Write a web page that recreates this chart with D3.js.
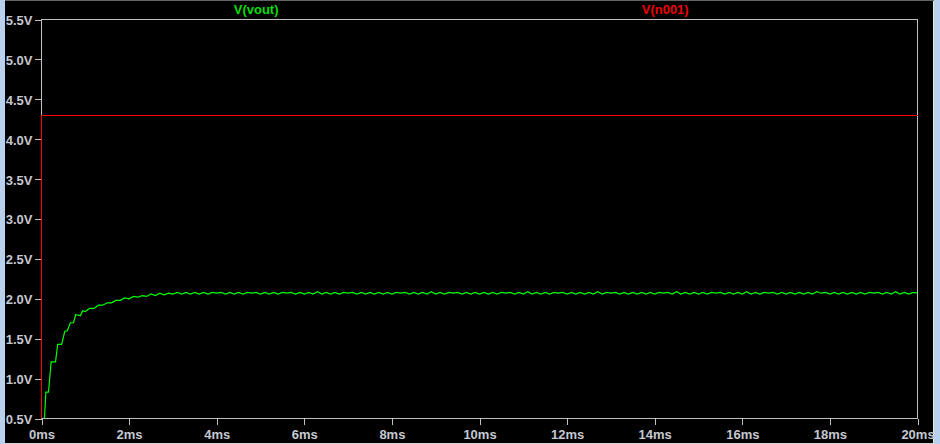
<!DOCTYPE html>
<html>
<head>
<meta charset="utf-8">
<script src="https://cdn.jsdelivr.net/npm/d3@7"></script>
<style>
  body { margin: 0; background: #000; }
  svg { display: block; }
  .tick-label { font-family: "Liberation Sans", Arial, sans-serif; font-weight: bold; font-size: 13px; fill: #c4c8d0; }
  .trace-label { font-family: "Liberation Sans", Arial, sans-serif; font-weight: bold; font-size: 13px; }
</style>
</head>
<body>
<svg id="chart" width="940" height="444"></svg>
<script>
// axis ticks
const xTicks = [0, 2, 4, 6, 8, 10, 12, 14, 16, 18, 20];          // ms
const yTicks = [0.5, 1.0, 1.5, 2.0, 2.5, 3.0, 3.5, 4.0, 4.5, 5.0, 5.5]; // V

// trace names / colours
const traceNames = ["V(vout)", "V(n001)"];
const traceColors = ["#00ff00", "#ff0000"];
const labelColors = ["#00dd00", "#ee0000"];

// V(n001): steps to 4.3V at t=0
const n001Times = [0, 0, 20];
const n001Values = [0.0, 4.3, 4.3];

// V(vout): start of the rise (ms, V)
const voutRiseTimes = [0, 0.07, 0.10, 0.16, 0.19, 0.22, 0.32, 0.37, 0.46, 0.50, 0.53, 0.59, 0.63, 0.66, 0.73, 0.78, 0.89, 0.94];
const voutRiseValues = [0.30, 0.52, 0.83, 0.83, 1.02, 1.21, 1.21, 1.43, 1.43, 1.52, 1.59, 1.60, 1.66, 1.70, 1.70, 1.80, 1.79, 1.85];

// V(vout): rest of the trace, one value every 0.1ms from 1.0ms to 20.0ms
const voutStart = 1.0;
const voutStep = 0.1;
const voutValues = [
  1.84, 1.88, 1.88, 1.92, 1.92, 1.95, 1.95, 1.98, 1.98, 2.01,
  2.00, 2.03, 2.02, 2.04, 2.03, 2.06, 2.04, 2.07, 2.05, 2.07,
  2.06, 2.08, 2.06, 2.08, 2.06, 2.08, 2.06, 2.08, 2.06, 2.08,
  2.07, 2.08, 2.06, 2.08, 2.06, 2.08, 2.06, 2.08, 2.07, 2.08,
  2.06, 2.08, 2.06, 2.08, 2.06, 2.08, 2.07, 2.08, 2.06, 2.08,
  2.06, 2.08, 2.06, 2.09, 2.06, 2.08, 2.06, 2.08, 2.06, 2.08,
  2.07, 2.08, 2.06, 2.08, 2.06, 2.08, 2.06, 2.08, 2.06, 2.08,
  2.06, 2.08, 2.07, 2.08, 2.06, 2.08, 2.06, 2.08, 2.06, 2.09,
  2.06, 2.08, 2.06, 2.08, 2.07, 2.08, 2.06, 2.08, 2.06, 2.08,
  2.06, 2.08, 2.06, 2.08, 2.06, 2.08, 2.07, 2.08, 2.06, 2.08,
  2.06, 2.09, 2.06, 2.08, 2.06, 2.08, 2.06, 2.08, 2.07, 2.08,
  2.06, 2.08, 2.06, 2.08, 2.06, 2.08, 2.06, 2.09, 2.06, 2.08,
  2.07, 2.08, 2.06, 2.08, 2.06, 2.08, 2.06, 2.08, 2.06, 2.08,
  2.06, 2.08, 2.07, 2.08, 2.06, 2.09, 2.06, 2.08, 2.06, 2.08,
  2.06, 2.08, 2.06, 2.08, 2.07, 2.08, 2.06, 2.08, 2.06, 2.08,
  2.06, 2.09, 2.06, 2.08, 2.06, 2.08, 2.07, 2.08, 2.06, 2.08,
  2.06, 2.08, 2.06, 2.08, 2.06, 2.08, 2.06, 2.09, 2.07, 2.08,
  2.06, 2.08, 2.06, 2.08, 2.06, 2.08, 2.06, 2.08, 2.06, 2.08,
  2.07, 2.08, 2.06, 2.08, 2.06, 2.09, 2.06, 2.08, 2.06, 2.08,
  2.07
];

let chart = d3.select("#chart");
let width = 940, height = 444;
let plot = { left: 41.5, right: 917.5, top: 19.5, bottom: 418.5 };

// window chrome
chart.append("rect").attr("width", width).attr("height", height).attr("fill", "#000");
chart.append("rect").attr("x", 0).attr("y", 0).attr("width", 5).attr("height", height).attr("fill", "#b9d1ea");
chart.append("rect").attr("x", 934).attr("y", 0).attr("width", 6).attr("height", height).attr("fill", "#b9d1ea");
chart.append("line").attr("x1", 933.5).attr("x2", 933.5).attr("y1", 0).attr("y2", height)
    .attr("stroke", "#e6e6e6");
chart.append("line").attr("x1", 5).attr("x2", 934).attr("y1", 0.5).attr("y2", 0.5)
    .attr("stroke", "#646464");
chart.append("line").attr("x1", 5).attr("x2", 934).attr("y1", 443.5).attr("y2", 443.5)
    .attr("stroke", "#d8d8d8");

let x = d3.scaleLinear().domain([0, 20]).range([plot.left, plot.right]);
let y = d3.scaleLinear().domain([0.5, 5.5]).range([plot.bottom, plot.top]);

// frame
chart.append("rect")
    .attr("x", plot.left).attr("y", plot.top)
    .attr("width", plot.right - plot.left).attr("height", plot.bottom - plot.top)
    .attr("fill", "none").attr("stroke", "#c0c0c0").attr("shape-rendering", "crispEdges");

// y axis
let yAxis = chart.append("g").attr("transform", "translate(" + plot.left + ",0)")
    .call(d3.axisLeft(y).tickValues(yTicks).tickSize(7).tickPadding(2)
        .tickFormat(d => d3.format(".1f")(d) + "V"));
yAxis.select(".domain").remove();
yAxis.selectAll("line").attr("stroke", "#c0c0c0").attr("shape-rendering", "crispEdges");
yAxis.selectAll("text").attr("class", "tick-label").attr("fill", null).attr("dy", "0.38em")
    .attr("font-family", null).attr("font-size", null);

// x axis
let xAxis = chart.append("g").attr("transform", "translate(0," + plot.bottom + ")")
    .call(d3.axisBottom(x).tickValues(xTicks).tickSize(6).tickPadding(5)
        .tickFormat(d => d + "ms"));
xAxis.select(".domain").remove();
xAxis.selectAll("line").attr("stroke", "#c0c0c0").attr("shape-rendering", "crispEdges");
xAxis.selectAll("text").attr("class", "tick-label").attr("fill", null)
    .attr("font-family", null).attr("font-size", null);

// traces (clip box a pixel wider so the t=0 edge isn't cut)
chart.append("clipPath").attr("id", "plot-clip")
    .append("rect")
    .attr("x", plot.left - 1).attr("y", plot.top - 1)
    .attr("width", plot.right - plot.left + 2).attr("height", plot.bottom - plot.top + 1);

let voutData = voutRiseTimes.map((t, i) => ({ t: t, v: voutRiseValues[i] }))
    .concat(voutValues.map((v, i) => ({ t: voutStart + i * voutStep, v: v })));
let n001Data = n001Times.map((t, i) => ({ t: t, v: n001Values[i] }));

let line = d3.line().x(d => x(d.t)).y(d => y(d.v));

let traces = chart.append("g").attr("clip-path", "url(#plot-clip)");
traces.append("path").datum(voutData)
    .attr("d", line).attr("fill", "none")
    .attr("stroke", traceColors[0]).attr("stroke-width", 1.2);
traces.append("path").datum(n001Data)
    .attr("d", line).attr("fill", "none")
    .attr("stroke", traceColors[1]).attr("stroke-width", 1)
    .attr("shape-rendering", "crispEdges");

// trace labels
let labelPos = [0.245, 0.712];
chart.selectAll("text.trace-label")
    .data(traceNames)
    .enter()
    .append("text")
    .attr("class", "trace-label")
    .attr("x", (d, i) => plot.left + labelPos[i] * (plot.right - plot.left))
    .attr("y", 14)
    .attr("text-anchor", "middle")
    .attr("fill", (d, i) => labelColors[i])
    .text(d => d);
</script>
</body>
</html>
